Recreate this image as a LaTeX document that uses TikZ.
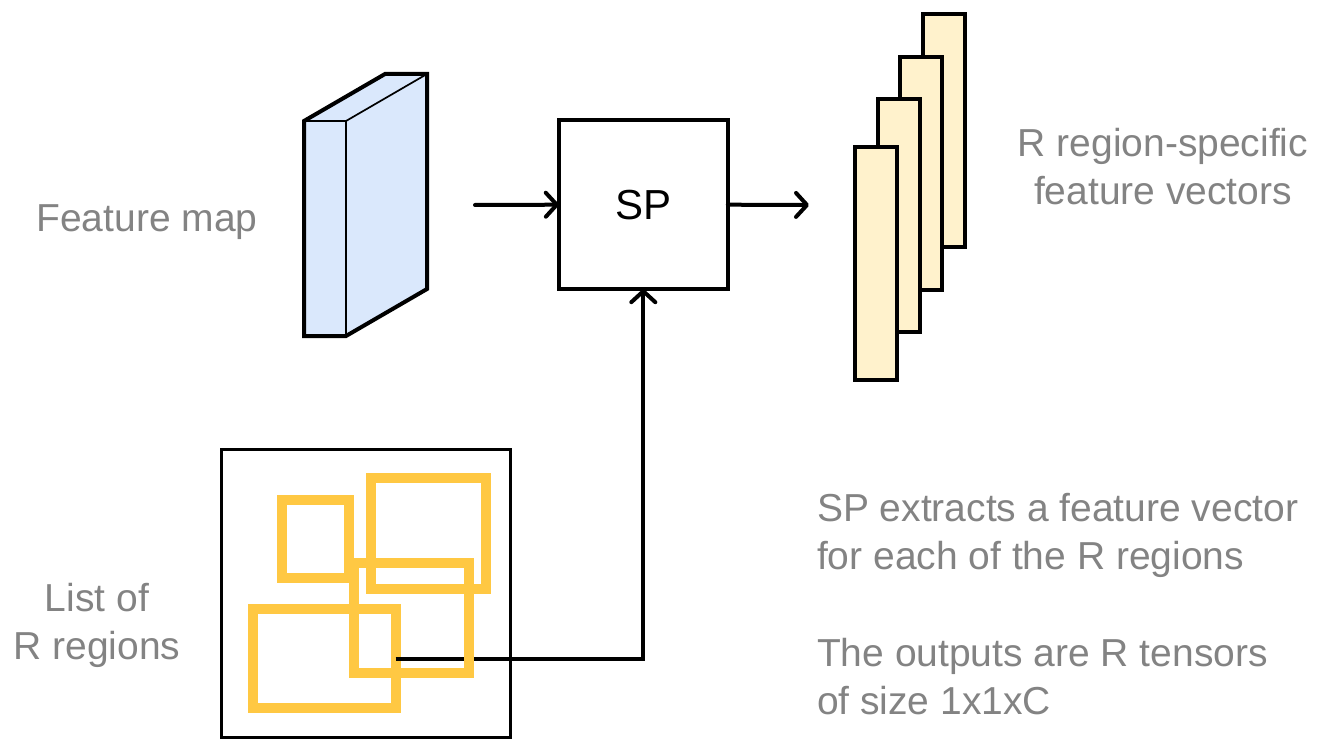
\documentclass[tikz,border=0pt]{standalone}
\usepackage{fontspec}
\setmainfont{Liberation Sans}
\usetikzlibrary{arrows.meta}
\definecolor{mapblue}{HTML}{DAE8FC}
\definecolor{veccream}{HTML}{FFF2CC}
\definecolor{roiyellow}{HTML}{FFC843}
\definecolor{labelgray}{HTML}{838383}
\tikzset{
  every node/.style={inner sep=0pt, outer sep=0pt},
  box/.style={draw=black, line width=4pt, rectangle},
  vecbox/.style={box, fill=veccream, minimum width=42pt, minimum height=233pt},
  roi/.style={draw=roiyellow, line width=10pt, rectangle},
  flow/.style={draw=black, line width=4pt, line cap=round,
    -{Straight Barb[length=11pt,width=24pt,line width=4pt,round]}},
  note/.style={text=labelgray, font=\fontsize{39}{48}\selectfont, align=center},
}
\begin{document}
\begin{tikzpicture}[x=1pt,y=-1pt]
\useasboundingbox (0,0) rectangle (1325,746);

% feature map drawn as a thin slab
\node[fill=mapblue, minimum width=42pt, minimum height=215pt] (fm) at (325,228.5) {};
\fill[mapblue] (fm.north east) -- ++(81,-47) -- ++(0,215) -- (fm.south east) -- cycle;
\fill[mapblue] (fm.north west) -- ++(81,-47) -- ++(42,0) -- (fm.north east) -- cycle;
\draw[line width=1.7pt] (fm.north west) -- (fm.north east) -- (fm.south east);
\draw[line width=1.7pt] (fm.north east) -- ++(81,-47);
\draw[line width=4pt, line join=miter]
  (fm.south west) -- (fm.north west) -- ++(81,-47) -- ++(42,0) -- ++(0,215)
  -- (fm.south east) -- cycle;
\node[note, anchor=center] (fmlabel) at (147,222) {Feature map};

% spatial pooling block
\node[box, minimum width=169pt, minimum height=169pt, font=\fontsize{42}{48}\selectfont] (sp) at (643.3,204.7) {SP};
\coordinate (fmout) at (475,205);
\coordinate (vecin) at (809,205);
\draw[flow] (fmout) -- (sp.west);
\draw[flow] (sp.east) -- (vecin);

% stack of region feature vectors, back to front
\node[vecbox] (v4) at (944.2,130.7) {};
\node[vecbox] (v3) at (921.2,173.7) {};
\node[vecbox] (v2) at (898.5,215.7) {};
\node[vecbox] (v1) at (876,263.3) {};
\node[note] (veclabel) at (1163,167) {R region-specific\\feature vectors};

% image with region proposals
\node[draw=black, line width=3pt, minimum width=289pt, minimum height=287.7pt] (img) at (365.5,593.8) {};
\node[roi, minimum width=67.3pt, minimum height=77.7pt] (ra) at (315.3,538.8) {};
\node[roi, minimum width=115pt, minimum height=110.7pt] (rb) at (428.5,533.7) {};
\node[roi, minimum width=143pt, minimum height=99pt] (rd) at (324.2,658.8) {};
\draw[flow, line cap=butt] (rd.east) -| (sp.south);
\node[roi, minimum width=115pt, minimum height=110.6pt] (rc) at (411.8,618) {};
\node[note] (roilabel) at (97,625) {List of\\R regions};

% explanatory notes
\node[note, align=left, anchor=west] (note1) at (817,535) {SP extracts a feature vector\\for each of the R regions};
\node[note, align=left, anchor=west] (note2) at (817,677) {The outputs are R tensors\\of size 1x1xC};
\end{tikzpicture}
\end{document}
